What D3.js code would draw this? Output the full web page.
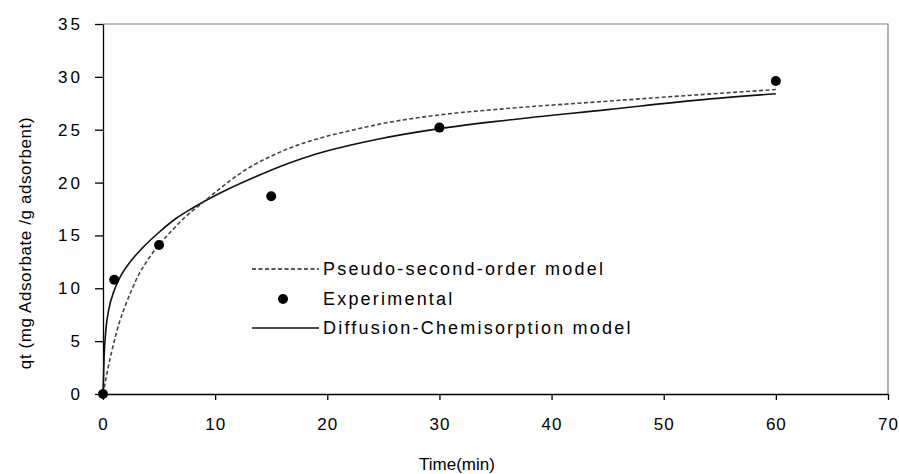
<!DOCTYPE html>
<html>
<head>
<meta charset="utf-8">
<script src="https://cdn.jsdelivr.net/npm/d3@7"></script>
<style>
  body { margin: 0; background: #fff; }
  svg { display: block; font-family: "Liberation Sans", Arial, sans-serif; }
</style>
</head>
<body>
<div id="chart"></div>
<script>
const width = 899;
const height = 474;
const margin = { top: 24, right: 10, bottom: 80, left: 103 };

// experimental points
const expTime = [0, 1, 5, 15, 30, 60];
const expQt = [0, 10.8, 14.1, 18.7, 25.2, 29.6];

// pseudo-second-order model curve
const psoTime = [0, 0.5, 1, 1.5, 2, 2.5, 3, 4, 5, 6, 7.5, 9, 10.5, 12, 13.5, 15, 16.5, 19, 22, 25, 30, 36, 45, 53, 60];
const psoQt = [0, 2.7, 5.0, 6.9, 8.4, 9.7, 10.9, 12.7, 14.1, 15.3, 16.9, 18.2, 19.5, 20.7, 21.7, 22.5, 23.2, 24.1, 24.9, 25.6, 26.4, 27.0, 27.7, 28.3, 28.8];

// diffusion-chemisorption model curve
const dcTime = [0, 0.1, 0.25, 0.5, 1, 1.5, 2.5, 3.5, 5, 6.5, 8, 9.5, 11, 13.5, 16.5, 19, 24.5, 30, 36, 45, 53, 60];
const dcQt = [0, 3.5, 6.0, 7.9, 9.8, 11.0, 12.6, 13.8, 15.3, 16.6, 17.6, 18.5, 19.3, 20.5, 21.8, 22.7, 24.1, 25.1, 25.9, 26.9, 27.8, 28.4];

const xTicks = [0, 10, 20, 30, 40, 50, 60, 70];
const yTicks = [0, 5, 10, 15, 20, 25, 30, 35];

const legendLabels = ['Pseudo-second-order model', 'Experimental', 'Diffusion-Chemisorption model'];

const svg = d3.select('#chart')
  .append('svg')
  .attr('width', width)
  .attr('height', height);

svg.append('rect')
  .attr('width', width)
  .attr('height', height)
  .attr('fill', '#fff');

const x = d3.scaleLinear()
  .domain([0, 70])
  .range([margin.left, width - margin.right - 1]);

const y = d3.scaleLinear()
  .domain([0, 35])
  .range([height - margin.bottom, margin.top]);

// gray frame on top and right
svg.append('path')
  .attr('d', `M${x(0)},${y(35)}H${x(70)}V${y(0)}`)
  .attr('fill', 'none')
  .attr('stroke', '#808080')
  .attr('stroke-width', 1.2);

const xAxisG = svg.append('g')
  .attr('transform', `translate(0, ${y(0)})`)
  .call(d3.axisBottom(x).tickValues(xTicks).tickSize(6).tickSizeOuter(0).tickPadding(18));

const yAxisG = svg.append('g')
  .attr('transform', `translate(${x(0)}, 0)`)
  .call(d3.axisLeft(y).tickValues(yTicks).tickSize(8).tickSizeOuter(0).tickPadding(12));

[xAxisG, yAxisG].forEach(g => {
  g.selectAll('path, line').attr('stroke', '#000').attr('stroke-width', 1.3);
  g.selectAll('text')
    .attr('fill', '#000')
    .style('font-size', '17px')
    .style('font-family', '"Liberation Sans", Arial, sans-serif');
});
xAxisG.selectAll('text').style('letter-spacing', '1px');
yAxisG.selectAll('text').style('letter-spacing', '3px');

// axis titles
svg.append('text')
  .text('Time(min)')
  .attr('x', 457)
  .attr('y', 470)
  .attr('text-anchor', 'middle')
  .style('font-size', '17px');

svg.append('text')
  .text('qt (mg Adsorbate /g adsorbent)')
  .attr('transform', 'translate(31, 243) rotate(-90)')
  .attr('text-anchor', 'middle')
  .style('font-size', '17px')
  .style('letter-spacing', '0.6px');

const line = d3.line()
  .x(d => x(d[0]))
  .y(d => y(d[1]))
  .curve(d3.curveMonotoneX);

const psoData = psoTime.map((t, i) => [t, psoQt[i]]);
const dcData = dcTime.map((t, i) => [t, dcQt[i]]);
const expData = expTime.map((t, i) => [t, expQt[i]]);

svg.append('path')
  .datum(dcData)
  .attr('d', line)
  .attr('fill', 'none')
  .attr('stroke', '#111')
  .attr('stroke-width', 1.6);

svg.append('path')
  .datum(psoData)
  .attr('d', line)
  .attr('fill', 'none')
  .attr('stroke', '#444')
  .attr('stroke-width', 1.6)
  .attr('stroke-dasharray', '4,2.5');

svg.selectAll('.exp')
  .data(expData)
  .join('circle')
  .attr('class', 'exp')
  .attr('cx', d => x(d[0]))
  .attr('cy', d => y(d[1]))
  .attr('r', 5)
  .attr('fill', '#000');

// LEGEND
const legend = svg.append('g');
const rowY = [269, 299, 328];

legend.append('line')
  .attr('x1', 252).attr('x2', 319)
  .attr('y1', rowY[0]).attr('y2', rowY[0])
  .attr('stroke', '#222')
  .attr('stroke-width', 1.5)
  .attr('stroke-dasharray', '4,2.5');

legend.append('circle')
  .attr('cx', 283)
  .attr('cy', rowY[1])
  .attr('r', 5)
  .attr('fill', '#000');

legend.append('line')
  .attr('x1', 252).attr('x2', 319)
  .attr('y1', rowY[2]).attr('y2', rowY[2])
  .attr('stroke', '#111')
  .attr('stroke-width', 1.6);

legend.selectAll('text')
  .data(legendLabels)
  .join('text')
  .text(d => d)
  .attr('x', 323)
  .attr('y', (d, i) => rowY[i])
  .attr('dy', '0.36em')
  .style('font-size', '18px')
  .style('letter-spacing', '2.2px');
</script>
</body>
</html>
